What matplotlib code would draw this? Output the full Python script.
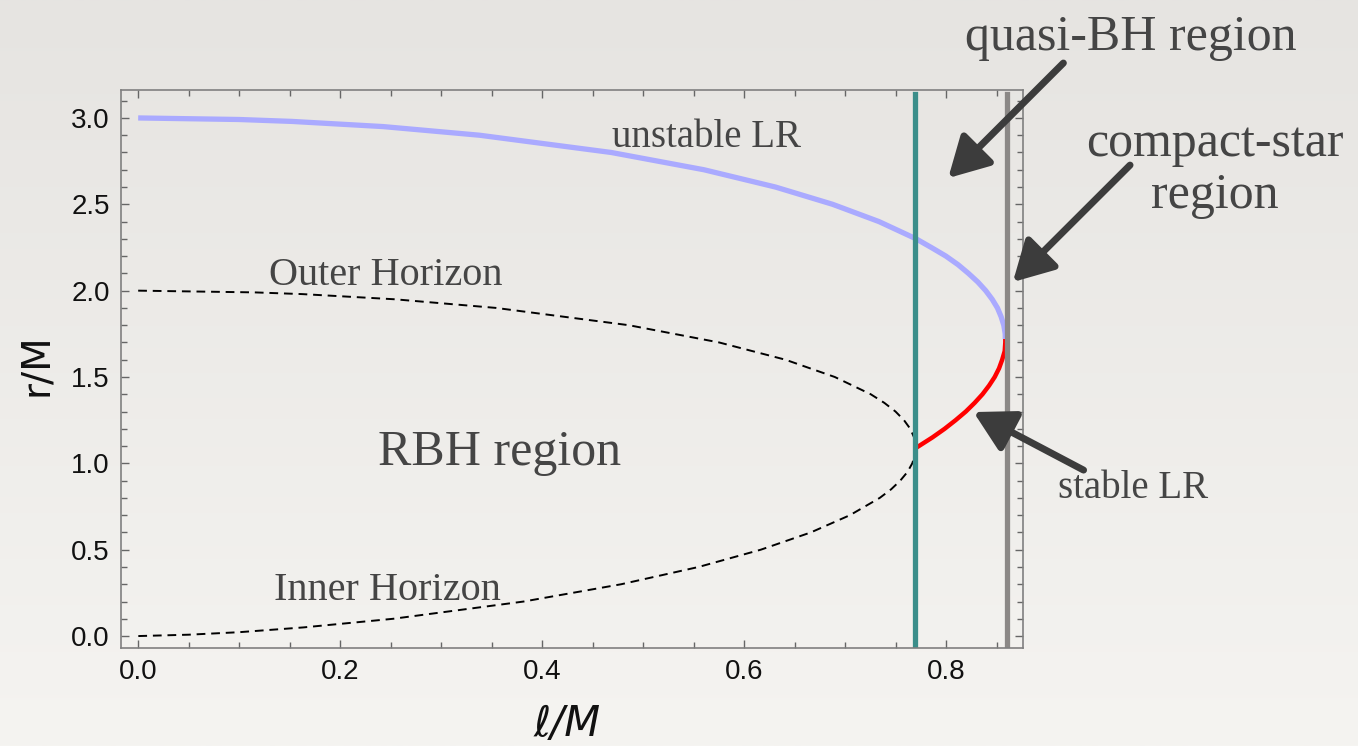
import numpy as np
import matplotlib.pyplot as plt
from matplotlib.colors import LinearSegmentedColormap
from matplotlib.ticker import MultipleLocator

# horizons (outer branch then inner branch)
horizon_l = [0.0, 0.1149, 0.1625, 0.2541, 0.3543, 0.4857, 0.5752, 0.6409, 0.6897,
             0.7253, 0.7388, 0.7498, 0.7582, 0.7644, 0.7682, 0.7698, 0.7691, 0.7664,
             0.7616, 0.7545, 0.7455, 0.7342, 0.7047, 0.6659, 0.6164, 0.5548, 0.4782,
             0.3817, 0.2524, 0.1635, 0.1, 0.05, 0.0]
horizon_r = [2.0, 1.99, 1.98, 1.95, 1.9, 1.8, 1.7, 1.6, 1.5,
             1.4, 1.35, 1.3, 1.25, 1.2, 1.15, 1.089, 1.05, 1.0,
             0.95, 0.9, 0.85, 0.8, 0.7, 0.6, 0.5, 0.4, 0.3,
             0.2, 0.1, 0.05, 0.0224, 0.0079, 0.0]

# unstable light ring
unstable_l = [0.0, 0.1, 0.152, 0.2425, 0.3379, 0.4684, 0.5602, 0.6309, 0.6875, 0.7334,
              0.7702, 0.7852, 0.7997, 0.8118, 0.8220, 0.8313, 0.8391, 0.8455, 0.8507,
              0.8543, 0.8570, 0.8584, 0.8585]
unstable_r = [3.0, 2.991, 2.98, 2.95, 2.9, 2.8, 2.7, 2.6, 2.5, 2.4,
              2.3, 2.25, 2.2, 2.15, 2.1, 2.05, 2.0, 1.95, 1.9,
              1.85, 1.8, 1.75, 1.72]

# stable light ring
stable_l = [0.7699, 0.7729, 0.7863, 0.7984, 0.8093, 0.8194, 0.8281, 0.8359, 0.8424,
            0.8480, 0.8523, 0.8554, 0.8579, 0.8585, 0.8585]
stable_r = [1.089, 1.1, 1.15, 1.2, 1.25, 1.3, 1.35, 1.4, 1.45,
            1.5, 1.55, 1.6, 1.65, 1.7, 1.72]

l_extremal = 0.769   # horizons merge
l_lr = 0.860         # light rings merge

fig = plt.figure(figsize=(13.58, 7.46), dpi=100)

# paper-like background
bg = fig.add_axes([0, 0, 1, 1], zorder=-5)
grad = np.linspace(0, 1, 256).reshape(-1, 1)
bg.imshow(grad, aspect='auto', extent=[0, 1, 0, 1], origin='upper',
          cmap=LinearSegmentedColormap.from_list('paper', ['#e6e4e1', '#f5f4f1']))
bg.axis('off')

ax = fig.add_axes([0.0891, 0.1314, 0.6642, 0.748])
ax.set_facecolor('none')

ax.plot(horizon_l, horizon_r, color='black', lw=1.4, ls=(0, (4.5, 3)))
ax.plot(unstable_l, unstable_r, color='#aaaaff', lw=3.8, solid_capstyle='butt')
ax.plot(stable_l, stable_r, color='#ff0000', lw=3.2, solid_capstyle='butt')
ax.axvline(l_extremal, ymax=0.992, color='#3b8e8a', lw=3.8)
ax.axvline(l_lr, ymax=0.992, color='#8b8886', lw=3.8)

ax.set_xlim(-0.017, 0.876)
ax.set_ylim(-0.069, 3.162)
ax.xaxis.set_major_locator(MultipleLocator(0.2))
ax.xaxis.set_minor_locator(MultipleLocator(0.05))
ax.yaxis.set_major_locator(MultipleLocator(0.5))
ax.yaxis.set_minor_locator(MultipleLocator(0.1))
ax.tick_params(which='both', direction='in', top=True, right=True, color='#666666',
               width=1.0, labelsize=20, labelcolor='#111111', pad=8)
ax.tick_params(which='major', length=6)
ax.tick_params(which='minor', length=4)
for lab in ax.get_xticklabels() + ax.get_yticklabels():
    lab.set_family('Liberation Sans')
for s in ax.spines.values():
    s.set_color('#808080')
    s.set_linewidth(1.2)

ax.set_ylabel('r/M', fontsize=28, family='DejaVu Sans', color='#111111')
ax.yaxis.set_label_coords(-0.073, 0.507)
ax.set_xlabel('ℓ/M', fontsize=30, family='DejaVu Sans', style='italic', color='#111111')
ax.xaxis.set_label_coords(0.4945, -0.098)

txt = dict(family='Liberation Serif', color='#454545', ha='center', va='center',
           annotation_clip=False)
ax.annotate('unstable LR', (0.563, 2.889), fontsize=28, **txt)
ax.annotate('Outer Horizon', (0.2455, 2.09), fontsize=29, **txt)
ax.annotate('Inner Horizon', (0.2465, 0.266), fontsize=29, **txt)
ax.annotate('RBH region', (0.358, 1.06), fontsize=36, **txt)
ax.annotate('stable LR', (0.985, 0.857), fontsize=28, **txt)
ax.annotate('quasi-BH region', (0.983, 3.463), fontsize=36, **txt)
ax.annotate('compact-star\nregion', (1.066, 2.70), fontsize=36, linespacing=1.15, **txt)

arrow = dict(arrowstyle='-|>,head_length=0.9,head_width=0.5', lw=5, color='#3c3c3c',
             mutation_scale=27, shrinkA=0, shrinkB=0)
ax.annotate('', xy=(0.802, 2.652), xytext=(0.916, 3.318), arrowprops=arrow,
            annotation_clip=False)
ax.annotate('', xy=(0.866, 2.05), xytext=(0.982, 2.727), arrowprops=arrow,
            annotation_clip=False)
ax.annotate('', xy=(0.827, 1.297), xytext=(0.936, 0.961), arrowprops=arrow,
            annotation_clip=False)

fig.savefig('out.png', dpi=100)
